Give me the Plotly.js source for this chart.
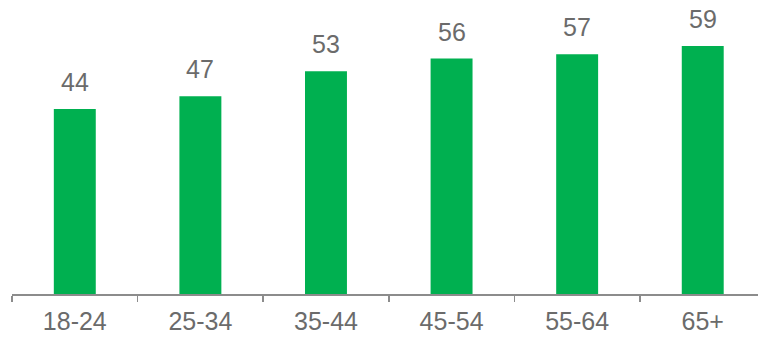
<!DOCTYPE html>
<html>
<head>
<meta charset="utf-8">
<script src="https://cdn.plot.ly/plotly-3.0.1.min.js"></script>
<style>html,body{margin:0;padding:0;overflow:hidden;background:#fff;}</style>
</head>
<body>
<div id="chart" style="width:758px;height:339px;"></div>
<script>
var categories = ["18-24", "25-34", "35-44", "45-54", "55-64", "65+"];
var values = [44, 47, 53, 56, 57, 59];

var trace = {
  type: "bar",
  x: categories,
  y: values,
  marker: {color: "#00B050"},
  width: 0.334,
  hoverinfo: "x+y"
};

var annotations = categories.map(function (c, i) {
  return {
    x: c, y: values[i], xref: "x", yref: "y",
    text: String(values[i]), showarrow: false,
    yanchor: "middle", yshift: 27,
    font: {family: "Liberation Sans, Arial, sans-serif", size: 25, color: "#6b6b6b"}
  };
});

var layout = {
  width: 758, height: 339,
  margin: {l: 12, r: 0, t: 0, b: 45},
  paper_bgcolor: "#fff", plot_bgcolor: "#fff",
  showlegend: false,
  xaxis: {
    type: "category",
    range: [-0.5, 5.44],
    showline: true, linecolor: "#8c8c8c", linewidth: 1.5,
    ticks: "outside", tickson: "boundaries", ticklen: 6, tickcolor: "#8c8c8c", tickwidth: 1.5,
    ticklabelstandoff: 4,
    showgrid: false, zeroline: false,
    tickfont: {family: "Liberation Sans, Arial, sans-serif", size: 25, color: "#6b6b6b"}
  },
  yaxis: {
    range: [0, 69.92], visible: false, showgrid: false, zeroline: false
  },
  annotations: annotations
};

Plotly.newPlot("chart", [trace], layout, {displayModeBar: false, staticPlot: true});
</script>
</body>
</html>
